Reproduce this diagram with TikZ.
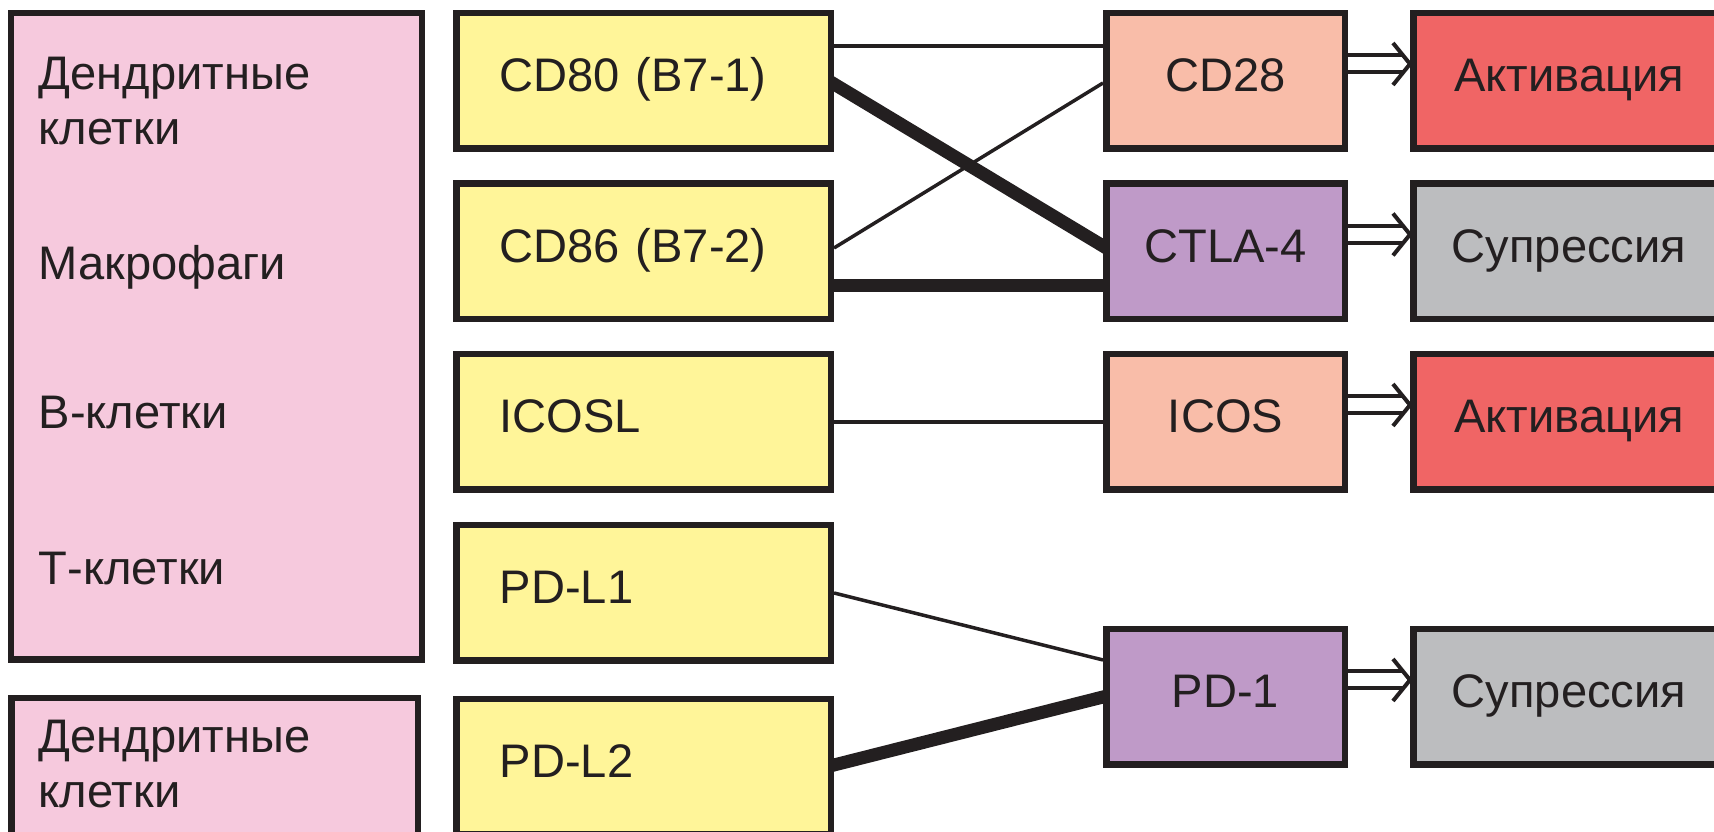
\documentclass[tikz,border=0pt]{standalone}
\usepackage{fontspec}
\setmainfont{Liberation Sans}
\usetikzlibrary{arrows.meta,backgrounds}
\definecolor{ink}{HTML}{231F20}
\definecolor{pink1}{HTML}{F6C9DD}
\definecolor{yellow1}{HTML}{FFF599}
\definecolor{salmon1}{HTML}{F9BDA9}
\definecolor{red1}{HTML}{F06565}
\definecolor{purple1}{HTML}{BF9AC8}
\definecolor{grey1}{HTML}{BCBDBF}
\tikzset{
  box/.style={draw=ink, line width=0.65mm, inner sep=0pt, text=ink,
    font=\fontsize{13.4}{16}\selectfont, text height=0.34cm, text depth=0.12cm,
    minimum height=1.355cm},
  ligand/.style={box, fill=yellow1, minimum width=3.745cm, text width=2.875cm, align=left},
  receptor/.style={box, minimum width=2.385cm},
  effect/.style={box, minimum width=3.115cm},
  celltxt/.style={anchor=base west, inner sep=0pt, text=ink,
    font=\fontsize{13.4}{16}\selectfont},
  bind/.style={draw=ink, line width=0.35mm},
  bindstrong/.style={draw=ink, line width=1.3mm, shorten <=-0.6mm, shorten >=-0.6mm},
  signal/.style={draw=ink, double=white, line width=0.4mm, double distance=1.3mm,
    shorten >=0.7mm},
  signalhead/.style={draw=ink, line width=0.4mm, line join=miter}
}

\begin{document}
\begin{tikzpicture}[x=1cm,y=1cm]
  \useasboundingbox (0,0) rectangle (17.14,8.32);
  \clip (0,0) rectangle (17.14,8.32);
  % antigen presenting cells
  \node[box, fill=pink1, minimum width=4.105cm, minimum height=6.465cm] (cellsA) at (2.165,4.955) {};
  \node[box, fill=pink1, minimum width=4.065cm, minimum height=1.435cm] (cellsB) at (2.145,0.62) {};
  \node[celltxt] (dcA1) at (0.38,7.42) {Дендритные};
  \node[celltxt] (dcA2) at (0.38,6.87) {клетки};
  \node[celltxt] (macro) at (0.38,5.52) {Макрофаги};
  \node[celltxt] (bcell) at (0.38,4.03) {В-клетки};
  \node[celltxt] (tcell) at (0.38,2.47) {Т-клетки};
  \node[celltxt] (dcB1) at (0.38,0.79) {Дендритные};
  \node[celltxt] (dcB2) at (0.38,0.24) {клетки};
  % ligands
  \node[ligand] (cd80) at (6.435,7.51) {CD80 (B7-1)};
  \node[ligand] (cd86) at (6.435,5.805) {CD86 (B7-2)};
  \node[ligand] (icosl) at (6.435,4.10) {ICOSL};
  \node[ligand] (pdl1) at (6.435,2.39) {PD-L1};
  \node[ligand] (pdl2) at (6.435,0.65) {PD-L2};
  % receptors on T cells
  \node[receptor, fill=salmon1] (cd28) at (12.255,7.51) {CD28};
  \node[receptor, fill=purple1] (ctla) at (12.255,5.805) {CTLA-4};
  \node[receptor, fill=salmon1] (icos) at (12.255,4.10) {ICOS};
  \node[receptor, fill=purple1] (pdone) at (12.255,1.35) {PD-1};
  % outcome
  \node[effect, fill=red1] (actA) at (15.69,7.51) {Активация};
  \node[effect, fill=grey1] (supA) at (15.69,5.805) {Супрессия};
  \node[effect, fill=red1] (actB) at (15.69,4.10) {Активация};
  \node[effect, fill=grey1] (supB) at (15.69,1.35) {Супрессия};
  % binding lines go under the boxes
  \begin{scope}[on background layer]
    \draw[bind] ([yshift=0.35cm]cd80.east) -- ([yshift=0.35cm]cd28.west);
    \draw[bindstrong] ([yshift=-0.03cm]cd80.east) -- ([yshift=0.055cm]ctla.west);
    \draw[bind] ([yshift=0.035cm]cd86.east) -- ([yshift=-0.02cm]cd28.west);
    \draw[bindstrong] ([yshift=-0.345cm]cd86.east) -- ([yshift=-0.345cm]ctla.west);
    \draw[bind] (icosl.east) -- (icos.west);
    \draw[bind] (pdl1.east) -- ([yshift=0.37cm]pdone.west);
    \draw[bindstrong] ([yshift=0.02cm]pdl2.east) -- (pdone.west);
  \end{scope}
  % hollow double arrows, head drawn as open chevron
  \foreach \a/\b in {cd28/actA, ctla/supA, icos/actB, pdone/supB}{
    \draw[signal] ([yshift=0.17cm]\a.east) -- ([yshift=0.17cm]\b.west);
    \draw[signalhead] ([xshift=-0.17cm,yshift=0.38cm]\b.west) -- ([yshift=0.17cm]\b.west)
      -- ([xshift=-0.17cm,yshift=-0.04cm]\b.west);}
\end{tikzpicture}
\end{document}
